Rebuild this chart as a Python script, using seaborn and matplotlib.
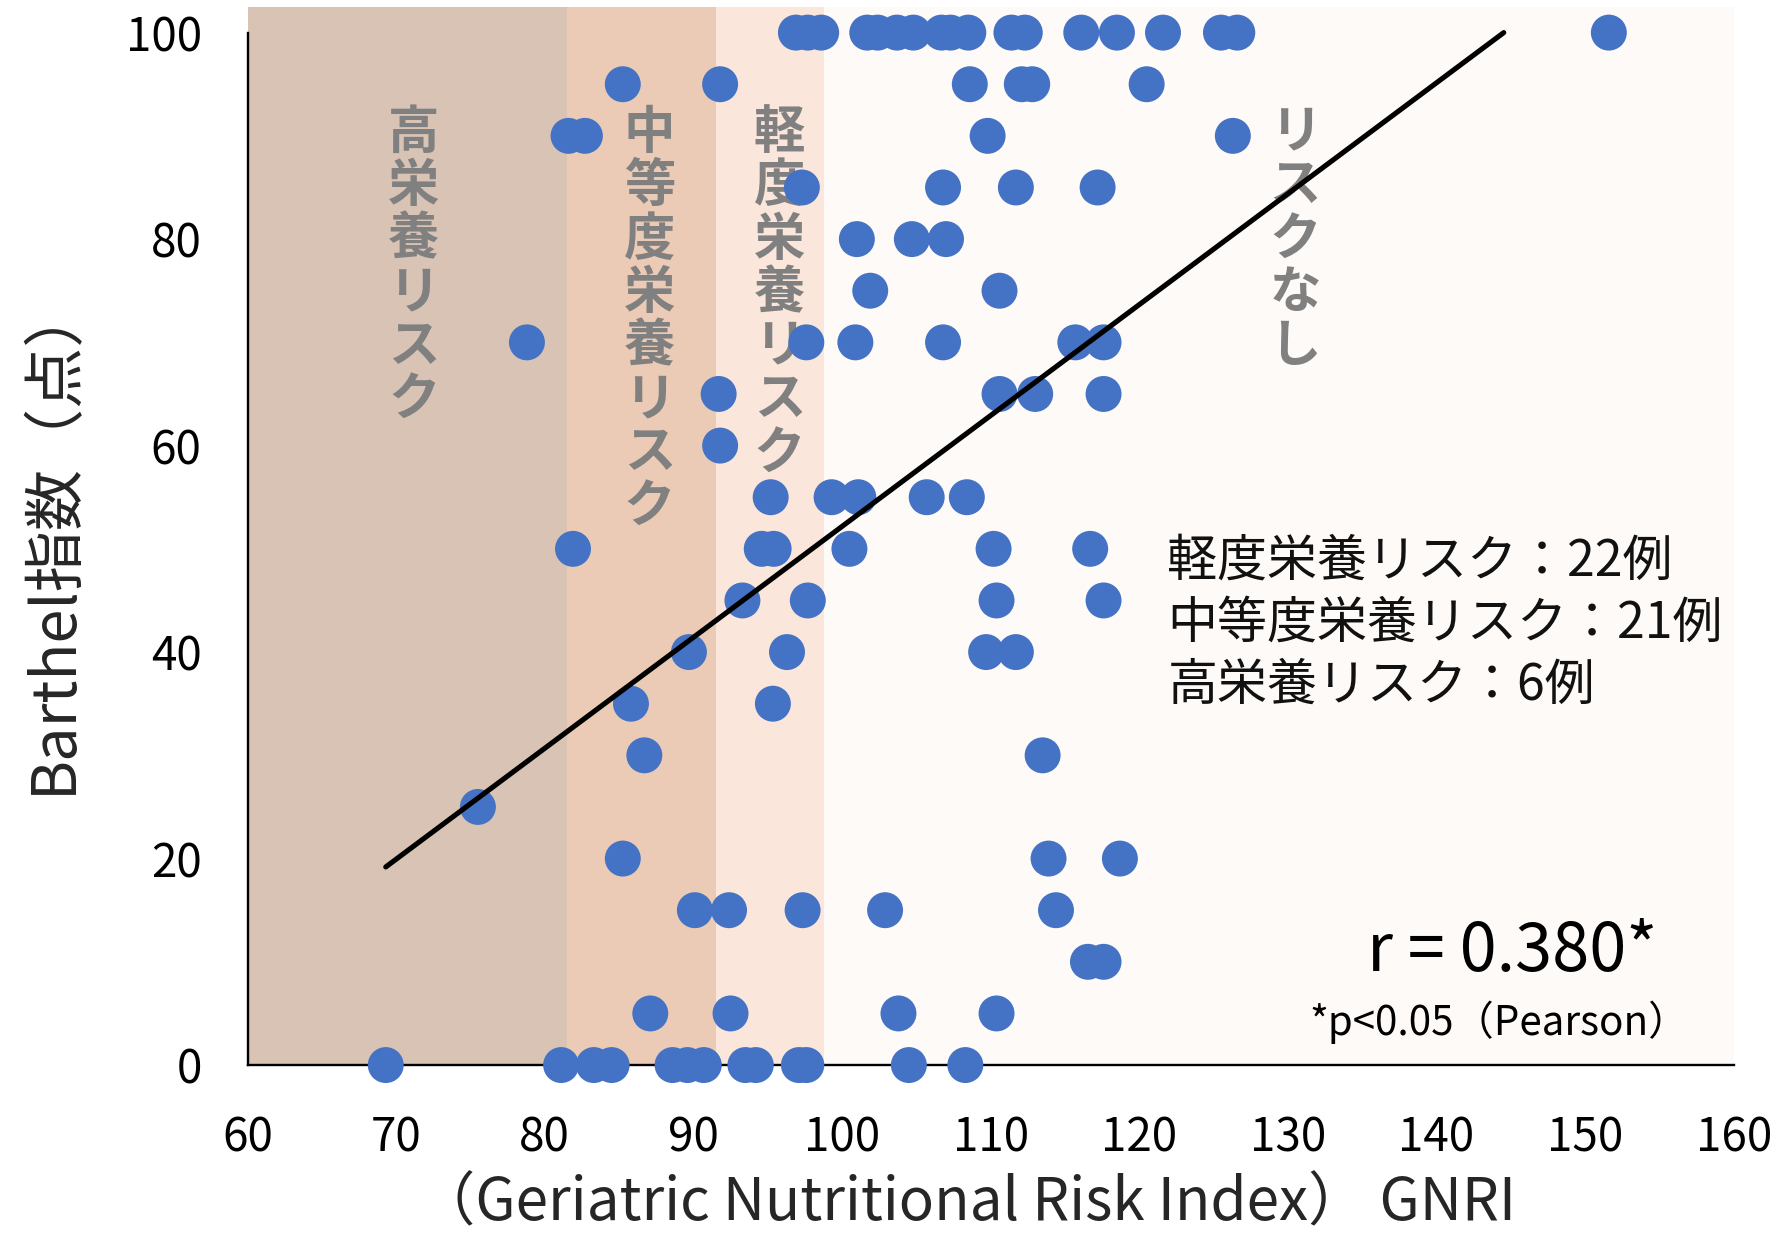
import numpy as np
import pandas as pd
import matplotlib
matplotlib.use('Agg')
import matplotlib.pyplot as plt
import seaborn as sns

# GNRI value of every patient, grouped by Barthel index row
gnri = [
    96.9, 97.7, 98.6, 101.7, 102.4, 103.7, 104.8, 106.7, 107.3, 108.5, 111.4, 112.3,
    116.1, 118.5, 121.6, 125.5, 126.6, 151.6,            # 100
    85.25, 91.8, 108.6, 112.1, 112.8, 120.5,              # 95
    81.6, 82.7, 109.8, 126.3,                             # 90
    97.3, 106.8, 111.7, 117.2,                            # 85
    101.0, 104.7, 107.0,                                  # 80
    101.9, 110.6,                                         # 75
    78.8, 97.6, 100.9, 106.8, 115.7, 117.6,               # 70
    91.7, 110.6, 113.0, 117.6,                            # 65
    91.8,                                                 # 60
    95.2, 99.3, 101.1, 105.7, 108.4,                      # 55
    81.9, 94.6, 95.4, 100.5, 110.2, 116.7,                # 50
    93.3, 97.7, 110.4, 117.6,                             # 45
    89.7, 96.3, 109.7, 111.7,                             # 40
    85.8, 95.35,                                          # 35
    86.7, 113.5,                                          # 30
    75.5,                                                 # 25
    85.25, 113.9, 118.7,                                  # 20
    90.1, 92.4, 97.35, 102.9, 114.4,                      # 15
    116.55, 117.6,                                        # 10
    87.1, 92.5, 103.8, 110.4,                             # 5
    69.3, 81.1, 83.3, 84.5, 88.6, 89.6, 90.7, 93.5, 94.2, 97.1, 97.6, 104.5, 108.3,  # 0
]
row_scores = [100, 95, 90, 85, 80, 75, 70, 65, 60, 55, 50, 45, 40, 35, 30, 25, 20, 15, 10, 5, 0]
row_counts = [18, 6, 4, 4, 3, 2, 6, 4, 1, 5, 6, 4, 4, 2, 2, 1, 3, 5, 2, 4, 13]
barthel = np.repeat(row_scores, row_counts)

# risk zones along GNRI
zone_edges = [60, 81.5, 91.5, 98.8, 160]
zone_names = ['高栄養リスク', '中等度栄養リスク', '軽度栄養リスク', 'リスクなし']
zone_colors = ['#D9C3B5', '#ECCBB6', '#FAE6DA', '#FEFAF7']
zone_label_x = [71.2, 87.05, 95.8, 130.5]

count_lines = ['軽度栄養リスク：22例', '中等度栄養リスク：21例', '高栄養リスク：6例']

df = pd.DataFrame({'GNRI': gnri, 'Barthel': barthel})

sns.set_style('white')
plt.rcParams['font.family'] = ['Noto Sans CJK JP', 'DejaVu Sans']

fig = plt.figure(figsize=(17.86, 12.36), dpi=100)
ax = fig.add_axes([0.1386, 0.1383, 0.8321, 0.8562])

for lo, hi, col in zip(zone_edges[:-1], zone_edges[1:], zone_colors):
    ax.axvspan(lo, hi, color=col, lw=0, zorder=0)

for name, xc in zip(zone_names, zone_label_x):
    ax.text(xc, 92.9, '\n'.join(name), ha='center', va='top', fontsize=37,
            color='#808080', fontweight='bold', linespacing=1.01, zorder=1)

sns.scatterplot(data=df, x='GNRI', y='Barthel', s=670, color='#4472C4',
                edgecolor='none', linewidth=0, ax=ax, zorder=3, clip_on=False)

# linear trend line, stopped where it reaches the top of the scale
slope, icpt = np.polyfit(df['GNRI'], df['Barthel'], 1)
x_end = min((100 - icpt) / slope, df['GNRI'].max())
xs = np.array([df['GNRI'].min(), x_end])
ax.plot(xs, slope * xs + icpt, color='black', linewidth=3.7, zorder=4,
        solid_capstyle='round')

for i, line in enumerate(count_lines):
    ax.text(121.9, 48.8 - 6.05 * i, line, ha='left', va='center', fontsize=36, color='#111111')

ax.text(145.1, 10.9, 'r = 0.380*', ha='center', va='center', fontsize=48, color='black')
ax.text(144.2, 4.1, '*p<0.05（Pearson）', ha='center', va='center', fontsize=29, color='black')

ax.set_xlim(60, 160)
ax.set_ylim(0, 102.5)
ax.set_xticks(range(60, 161, 10))
ax.set_yticks(range(0, 101, 20))
ax.tick_params(axis='both', length=0, labelsize=33, colors='black')
ax.tick_params(axis='y', pad=33)
ax.tick_params(axis='x', pad=35)

ax.set_xlabel('（Geriatric Nutritional Risk Index） GNRI', fontsize=42, va='center')
ax.set_ylabel('Barthel指数（点）', fontsize=44, va='center')
ax.xaxis.set_label_coords(0.484, -0.131)
ax.yaxis.set_label_coords(-0.1305, 0.50)

for side in ['top', 'right']:
    ax.spines[side].set_visible(False)
for side in ['left', 'bottom']:
    ax.spines[side].set_color('black')
    ax.spines[side].set_linewidth(1.7)
    ax.spines[side].set_zorder(2)
ax.spines['left'].set_bounds(0, 100)

fig.savefig('out.png', dpi=100)
